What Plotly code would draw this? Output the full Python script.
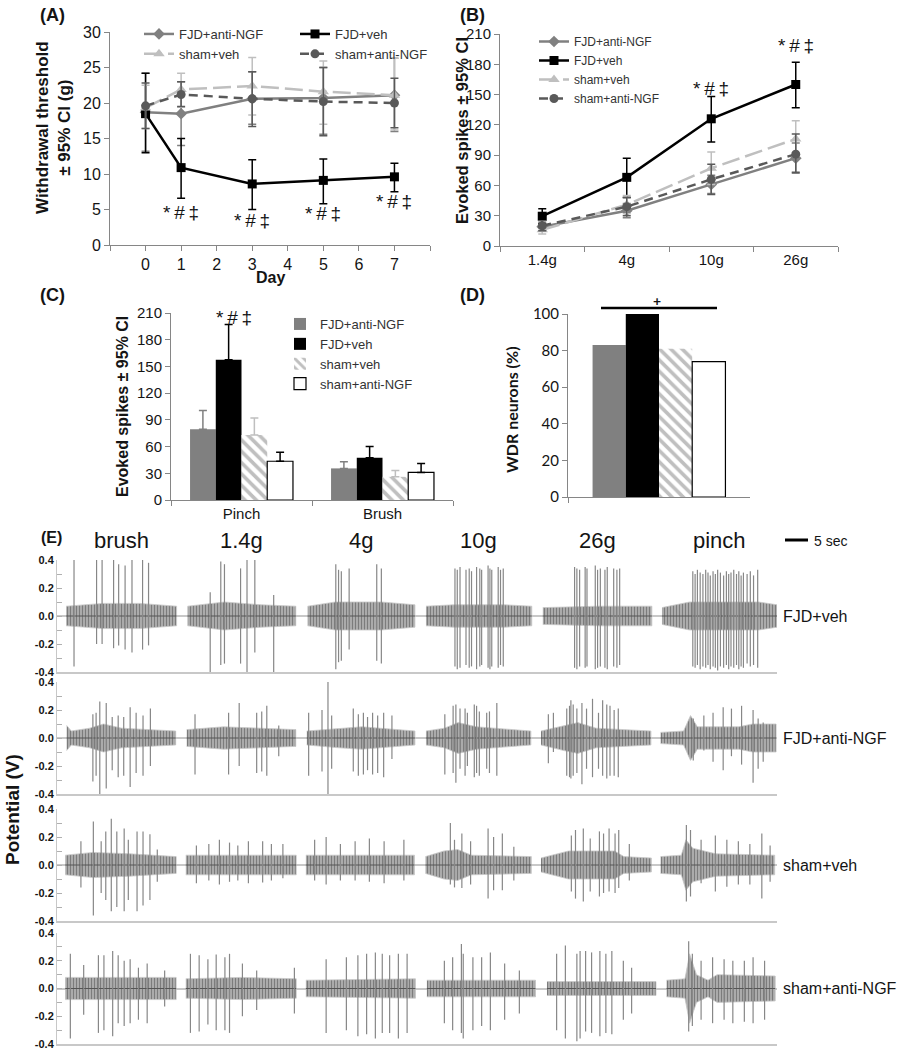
import plotly.graph_objects as go

# ======================= DATA =======================
groups = ["FJD+anti-NGF", "FJD+veh", "sham+veh", "sham+anti-NGF"]

# ---- Panel A: withdrawal threshold (g), mean with 95% CI bounds ----
a_days = [0, 1, 3, 5, 7]
a_tick_vals = [-1, 0, 1, 2, 3, 4, 5, 6, 7, 8]
a_tick_text = ["", "0", "1", "2", "3", "4", "5", "6", "7", ""]
a_fjd_ngf_mean = [18.7, 18.5, 20.6, 20.7, 21.1]
a_fjd_ngf_lo = [13.2, 14.0, 17.0, 15.6, 16.0]
a_fjd_ngf_hi = [24.2, 23.0, 24.4, 25.0, 26.3]
a_fjd_veh_mean = [18.5, 10.9, 8.6, 9.1, 9.6]
a_fjd_veh_lo = [13.0, 6.6, 5.0, 5.8, 7.5]
a_fjd_veh_hi = [24.2, 15.0, 12.0, 12.1, 11.5]
a_sham_veh_mean = [19.3, 21.9, 22.4, 21.6, 21.1]
a_sham_veh_lo = [16.4, 19.4, 18.3, 17.0, 16.2]
a_sham_veh_hi = [22.5, 24.2, 26.4, 25.9, 26.3]
a_sham_ngf_mean = [19.6, 21.2, 20.6, 20.2, 20.0]
a_sham_ngf_lo = [16.4, 19.5, 16.7, 15.4, 16.5]
a_sham_ngf_hi = [22.8, 23.0, 24.4, 25.0, 23.5]
a_sig_days = [1, 3, 5, 7]
a_sig_y = [4.6, 3.5, 4.5, 6.1]

# ---- Panel B: evoked spikes vs von Frey force ----
b_forces = ["1.4g", "4g", "10g", "26g"]
b_fjd_ngf_mean = [19, 35, 61, 87]
b_fjd_ngf_lo = [15, 28, 52, 72]
b_fjd_ngf_hi = [23, 42, 70, 102]
b_fjd_veh_mean = [29.5, 68, 126, 160]
b_fjd_veh_lo = [22, 48, 103, 137]
b_fjd_veh_hi = [37, 87, 148, 182]
b_sham_veh_mean = [16, 41, 77, 106]
b_sham_veh_lo = [12, 32, 61, 89]
b_sham_veh_hi = [20, 50, 93, 124]
b_sham_ngf_mean = [20, 39, 66, 91]
b_sham_ngf_lo = [15, 30, 51, 73]
b_sham_ngf_hi = [25, 48, 81, 111]
b_sig_x = ["10g", "26g"]
b_sig_ypx = [76, 33]          # vertical placement of the marks (page pixels)

# ---- Panel C: evoked spikes, pinch / brush ----
c_stimuli = ["Pinch", "Brush"]
c_fjd_ngf = [79.5, 35.5]
c_fjd_ngf_hi = [100.5, 43]
c_fjd_veh = [157.5, 47.5]
c_fjd_veh_hi = [197, 60]
c_sham_veh = [73, 26]
c_sham_veh_hi = [92, 33]
c_sham_ngf = [43.5, 31]
c_sham_ngf_hi = [53.5, 41]
c_sig_x = ["Pinch"]
c_sig_ypx = [305]

# ---- Panel D: WDR neurons (%) ----
d_category = ["WDR"]
d_fjd_ngf = [83]
d_fjd_veh = [100]
d_sham_veh = [81]
d_sham_ngf = [74]

# ---- Panel E: example recordings (time in s, potential in V) ----
e_rows = ["FJD+veh", "FJD+anti-NGF", "sham+veh", "sham+anti-NGF"]
e_stimuli = ["brush", "1.4g", "4g", "10g", "26g", "pinch"]

# segment start times (s)
e_start_fjd_veh = [2.0, 28.4, 54.5, 80.2, 105.6, 131.5]
e_start_fjd_ngf = [2.1, 28.2, 54.3, 80.2, 105.2, 131.2]
e_start_sham_veh = [1.8, 28.0, 54.1, 80.1, 105.2, 131.2]
e_start_sham_ngf = [1.8, 28.0, 54.1, 80.4, 106.5, 132.5]

# background-noise envelope per segment: [t within segment, half-amplitude]
e_env_fjd_veh = [
    [[0, 0.07], [8, 0.09], [16, 0.09], [24.0, 0.07]],
    [[0, 0.07], [8, 0.10], [16, 0.08], [23.5, 0.07]],
    [[0, 0.07], [6, 0.10], [16, 0.10], [23.3, 0.08]],
    [[0, 0.07], [6, 0.08], [17, 0.08], [23.0, 0.07]],
    [[0, 0.06], [12, 0.07], [23.7, 0.07]],
    [[0, 0.06], [6, 0.10], [21, 0.10], [25.0, 0.08]],
]
e_env_fjd_ngf = [
    [[0, 0.09], [1, 0.05], [5, 0.07], [8, 0.10], [12, 0.07], [23.7, 0.05]],
    [[0, 0.06], [8, 0.08], [23.7, 0.06]],
    [[0, 0.05], [7, 0.07], [12, 0.08], [23.5, 0.05]],
    [[0, 0.05], [4, 0.07], [7, 0.11], [11, 0.08], [22.8, 0.05]],
    [[0, 0.05], [5, 0.09], [8, 0.11], [12, 0.07], [23.9, 0.05]],
    [[0, 0.04], [5, 0.05], [6.5, 0.16], [8, 0.08], [17, 0.08], [20, 0.10], [25.1, 0.10]],
]
e_env_sham_veh = [
    [[0, 0.07], [6, 0.09], [14, 0.08], [24.1, 0.06]],
    [[0, 0.07], [24.0, 0.07]],
    [[0, 0.07], [23.6, 0.07]],
    [[0, 0.06], [4, 0.10], [7, 0.11], [10, 0.07], [23.0, 0.06]],
    [[0, 0.05], [6, 0.10], [16, 0.10], [18, 0.06], [24.0, 0.05]],
    [[0, 0.06], [4.5, 0.07], [5.5, 0.18], [7, 0.12], [12, 0.08], [24.8, 0.07]],
]
e_env_sham_ngf = [
    [[0, 0.08], [24.1, 0.08]],
    [[0, 0.07], [12, 0.08], [24.0, 0.07]],
    [[0, 0.06], [23.8, 0.07]],
    [[0, 0.06], [23.6, 0.06]],
    [[0, 0.05], [23.7, 0.05]],
    [[0, 0.06], [4, 0.07], [5, 0.25], [6.5, 0.10], [9, 0.06], [11, 0.10], [23.6, 0.09]],
]

# spikes per segment: [t within segment, peak, trough]
e_spk_fjd_veh = [
    [[1.7, 0.40, -0.36], [6.6, 0.40, -0.20], [7.8, 0.40, -0.20], [10.3, 0.40, -0.23], [11.4, 0.37, -0.21],
     [12.8, 0.36, -0.24], [14.3, 0.40, -0.26], [16.6, 0.40, -0.24], [17.9, 0.38, -0.21]],
    [[4.9, 0.17, -0.40], [7.2, 0.39, -0.35], [8.0, 0.37, -0.34], [11.5, 0.34, -0.34], [12.9, 0.40, -0.40],
     [14.6, 0.40, -0.26], [18.7, 0.15, -0.40]],
    [[6.1, 0.37, -0.38], [6.7, 0.33, -0.33], [7.3, 0.32, -0.32], [9.0, 0.34, -0.24], [15.0, 0.37, -0.32],
     [16.0, 0.34, -0.34]],
    [[6.3, 0.34, -0.36], [6.8, 0.33, -0.38], [7.4, 0.35, -0.37], [8.7, 0.33, -0.35], [9.4, 0.34, -0.37],
     [9.9, 0.32, -0.36], [11.0, 0.35, -0.38], [11.7, 0.34, -0.36], [12.1, 0.33, -0.35], [13.5, 0.36, -0.37],
     [13.9, 0.34, -0.38], [14.3, 0.33, -0.36], [15.7, 0.35, -0.37], [16.2, 0.33, -0.35], [16.8, 0.34, -0.36]],
    [[6.9, 0.35, -0.37], [7.4, 0.34, -0.38], [8.0, 0.33, -0.36], [9.2, 0.35, -0.37], [9.6, 0.34, -0.36],
     [11.4, 0.36, -0.38], [11.9, 0.33, -0.37], [12.5, 0.34, -0.36], [13.5, 0.33, -0.37], [14.0, 0.35, -0.38],
     [15.4, 0.34, -0.36], [16.1, 0.33, -0.37], [16.7, 0.34, -0.35]],
    [[6.7, 0.32, -0.36], [7.2, 0.30, -0.37], [7.7, 0.33, -0.35], [8.3, 0.31, -0.38], [8.9, 0.30, -0.36],
     [9.5, 0.33, -0.37], [10.0, 0.31, -0.35], [10.5, 0.29, -0.38], [11.1, 0.32, -0.36], [11.6, 0.30, -0.37],
     [12.1, 0.33, -0.39], [12.7, 0.31, -0.36], [13.4, 0.29, -0.37], [14.0, 0.32, -0.35], [14.5, 0.30, -0.38],
     [15.0, 0.31, -0.36], [15.6, 0.33, -0.37], [16.2, 0.30, -0.35], [16.7, 0.32, -0.38], [17.2, 0.29, -0.36],
     [17.7, 0.31, -0.37], [18.5, 0.30, -0.34], [19.2, 0.32, -0.36], [19.9, 0.29, -0.35], [20.8, 0.33, -0.37]],
]
e_spk_fjd_ngf = [
    [[5.7, 0.17, -0.31], [6.4, 0.18, -0.27], [7.2, 0.26, -0.40], [8.6, 0.25, -0.36], [9.9, 0.15, -0.23],
     [11.2, 0.16, -0.28], [12.4, 0.15, -0.27], [13.8, 0.22, -0.35], [15.1, 0.18, -0.25], [16.6, 0.16, -0.27],
     [18.2, 0.21, -0.20]],
    [[1.8, 0.17, -0.26], [9.1, 0.18, -0.26], [11.4, 0.25, -0.20], [15.2, 0.18, -0.25], [16.3, 0.19, -0.24],
     [17.4, 0.23, -0.27], [20.0, 0.09, -0.13]],
    [[0.4, 0.18, -0.27], [3.3, 0.20, -0.24], [4.6, 0.42, -0.40], [5.4, 0.16, -0.22], [10.1, 0.21, -0.24],
     [11.2, 0.17, -0.27], [12.3, 0.18, -0.26], [13.2, 0.15, -0.23], [14.3, 0.18, -0.26], [15.4, 0.16, -0.25],
     [16.7, 0.18, -0.28], [18.5, 0.16, -0.15]],
    [[4.1, 0.17, -0.26], [5.9, 0.23, -0.25], [6.5, 0.24, -0.32], [7.4, 0.21, -0.22], [8.5, 0.21, -0.27],
     [9.0, 0.18, -0.20], [10.5, 0.24, -0.28], [11.0, 0.23, -0.25], [11.6, 0.19, -0.27], [13.2, 0.18, -0.22],
     [13.8, 0.19, -0.25], [15.4, 0.25, -0.27]],
    [[1.6, 0.17, -0.18], [2.7, 0.18, -0.10], [5.6, 0.21, -0.27], [6.2, 0.23, -0.28], [6.5, 0.27, -0.29],
     [7.0, 0.24, -0.27], [7.8, 0.21, -0.25], [8.9, 0.25, -0.33], [9.9, 0.21, -0.22], [11.2, 0.28, -0.28],
     [12.5, 0.18, -0.22], [13.4, 0.27, -0.27], [14.3, 0.24, -0.29], [15.0, 0.23, -0.27], [15.9, 0.20, -0.27],
     [16.8, 0.21, -0.28]],
    [[7.1, 0.14, -0.16], [9.4, 0.16, -0.09], [11.4, 0.18, -0.17], [13.6, 0.22, -0.23], [15.4, 0.21, -0.13],
     [17.6, 0.23, -0.19], [20.1, 0.20, -0.32], [21.2, 0.14, -0.22], [22.3, 0.11, -0.17]],
]
e_spk_sham_veh = [
    [[3.4, 0.17, -0.16], [6.1, 0.31, -0.36], [7.8, 0.17, -0.20], [8.8, 0.24, -0.25], [10.0, 0.33, -0.33],
     [11.2, 0.24, -0.30], [12.8, 0.26, -0.33], [13.7, 0.18, -0.25], [15.6, 0.24, -0.33], [16.9, 0.24, -0.29],
     [18.4, 0.22, -0.25], [20.0, 0.11, -0.12]],
    [[2.3, 0.14, -0.13], [5.0, 0.15, -0.11], [7.3, 0.18, -0.14], [9.5, 0.16, -0.12], [11.3, 0.14, -0.11],
     [13.6, 0.17, -0.13], [16.7, 0.17, -0.125], [18.6, 0.15, -0.11], [21.1, 0.15, -0.095]],
    [[1.9, 0.18, -0.11], [4.4, 0.20, -0.14], [7.5, 0.15, -0.11], [10.7, 0.17, -0.11], [13.8, 0.19, -0.12],
     [17.0, 0.17, -0.13], [21.3, 0.18, -0.11]],
    [[5.4, 0.30, -0.14], [6.3, 0.18, -0.16], [7.9, 0.225, -0.165], [9.8, 0.17, -0.14], [13.6, 0.26, -0.24],
     [14.8, 0.20, -0.18], [16.7, 0.225, -0.18], [19.2, 0.13, -0.11]],
    [[6.6, 0.21, -0.19], [7.5, 0.25, -0.24], [9.2, 0.26, -0.26], [10.7, 0.19, -0.19], [12.7, 0.24, -0.225],
     [13.6, 0.225, -0.20], [14.8, 0.26, -0.19], [16.1, 0.225, -0.20], [16.9, 0.25, -0.165], [19.2, 0.15, -0.11]],
    [[5.6, 0.285, -0.26], [6.5, 0.25, -0.225], [8.8, 0.18, -0.13], [11.9, 0.21, -0.19], [14.4, 0.18, -0.155],
     [16.9, 0.17, -0.14], [19.4, 0.15, -0.14], [22.0, 0.225, -0.24], [23.8, 0.14, -0.12]],
]
e_spk_sham_ngf = [
    [[1.1, 0.25, -0.36], [4.0, 0.17, -0.19], [7.2, 0.24, -0.32], [8.4, 0.24, -0.30], [10.3, 0.27, -0.345],
     [11.5, 0.24, -0.25], [12.8, 0.20, -0.27], [14.1, 0.21, -0.25], [15.9, 0.15, -0.225], [17.8, 0.18, -0.25],
     [21.6, 0.13, -0.13]],
    [[1.0, 0.25, -0.32], [2.9, 0.24, -0.31], [4.8, 0.21, -0.26], [6.6, 0.245, -0.30], [8.5, 0.225, -0.30],
     [9.5, 0.25, -0.32], [12.3, 0.18, -0.20], [15.4, 0.13, -0.155], [23.6, 0.15, -0.18]],
    [[4.4, 0.21, -0.32], [8.8, 0.225, -0.30], [11.3, 0.24, -0.345], [13.2, 0.25, -0.33], [15.1, 0.26, -0.36],
     [16.6, 0.25, -0.32], [18.2, 0.24, -0.32], [20.1, 0.25, -0.36], [22.0, 0.25, -0.32]],
    [[3.8, 0.20, -0.25], [5.6, 0.225, -0.30], [7.5, 0.32, -0.32], [7.9, 0.25, -0.36], [10.0, 0.225, -0.30],
     [11.9, 0.225, -0.27], [13.8, 0.26, -0.30], [16.9, 0.18, -0.225], [20.1, 0.13, -0.18]],
    [[2.1, 0.25, -0.30], [4.0, 0.31, -0.36], [6.5, 0.25, -0.38], [7.2, 0.27, -0.36], [8.4, 0.27, -0.31],
     [9.7, 0.26, -0.32], [11.5, 0.27, -0.345], [12.8, 0.25, -0.32], [14.1, 0.27, -0.33], [16.6, 0.20, -0.225],
     [18.4, 0.15, -0.18]],
    [[4.8, 0.34, -0.31], [5.6, 0.25, -0.27], [7.5, 0.20, -0.225], [10.0, 0.225, -0.25], [12.5, 0.21, -0.225],
     [14.4, 0.20, -0.25], [16.9, 0.20, -0.24], [18.8, 0.225, -0.25], [21.3, 0.20, -0.225]],
]
e_tick_vals = [-0.4, -0.2, 0.0, 0.2, 0.4]
e_tick_text = ["-0.4", "-0.2", "0.0", "0.2", "0.4"]
e_scale_label = "5 sec"

# ======================= STYLE / LAYOUT =======================
W, H = 905, 1050
def px(x):
    return x / W
def py(y):
    return 1 - y / H

ARIAL = "Liberation Sans, Arial, sans-serif"
CALIBRI = "Lato, Carlito, Calibri, sans-serif"
TXT = "#141414"
AXC = "#868686"

line_colors = ["#808080", "#000000", "#bfbfbf", "#595959"]
line_dash = ["solid", "solid", "18px,6px", "9px,6px"]
line_symbol = ["diamond", "square", "triangle-up", "circle"]
line_msize = [9, 9, 10, 9]

fig = go.Figure()

# ---------- Panel A ----------
a_means = [a_fjd_ngf_mean, a_fjd_veh_mean, a_sham_veh_mean, a_sham_ngf_mean]
a_los = [a_fjd_ngf_lo, a_fjd_veh_lo, a_sham_veh_lo, a_sham_ngf_lo]
a_his = [a_fjd_ngf_hi, a_fjd_veh_hi, a_sham_veh_hi, a_sham_ngf_hi]
for i, g in enumerate(groups):
    m, lo, hi = a_means[i], a_los[i], a_his[i]
    fig.add_trace(go.Scatter(
        x=a_days, y=m, name=g, mode="lines+markers",
        line=dict(color=line_colors[i], width=2.5, dash=line_dash[i]),
        marker=dict(symbol=line_symbol[i], size=line_msize[i], color=line_colors[i]),
        error_y=dict(type="data", symmetric=False,
                     array=[h - v for h, v in zip(hi, m)],
                     arrayminus=[v - l for v, l in zip(m, lo)],
                     color=line_colors[i], thickness=1.5, width=4),
        xaxis="x", yaxis="y", legend="legend" if i in (0, 2) else "legend2",
    ))

# ---------- Panel B ----------
b_means = [b_fjd_ngf_mean, b_fjd_veh_mean, b_sham_veh_mean, b_sham_ngf_mean]
b_los = [b_fjd_ngf_lo, b_fjd_veh_lo, b_sham_veh_lo, b_sham_ngf_lo]
b_his = [b_fjd_ngf_hi, b_fjd_veh_hi, b_sham_veh_hi, b_sham_ngf_hi]
for i, g in enumerate(groups):
    m, lo, hi = b_means[i], b_los[i], b_his[i]
    fig.add_trace(go.Scatter(
        x=b_forces, y=m, name=g, mode="lines+markers",
        line=dict(color=line_colors[i], width=2.5, dash=line_dash[i]),
        marker=dict(symbol=line_symbol[i], size=line_msize[i], color=line_colors[i]),
        error_y=dict(type="data", symmetric=False,
                     array=[h - v for h, v in zip(hi, m)],
                     arrayminus=[v - l for v, l in zip(m, lo)],
                     color=line_colors[i], thickness=1.5, width=4),
        xaxis="x2", yaxis="y2", legend="legend3",
    ))

# ---------- Panel C and D (bars) ----------
bar_fill = ["#808080", "#000000", "#bfbfbf", "#ffffff"]
bar_err = ["#808080", "#000000", "#bfbfbf", "#000000"]
c_vals = [c_fjd_ngf, c_fjd_veh, c_sham_veh, c_sham_ngf]
c_his = [c_fjd_ngf_hi, c_fjd_veh_hi, c_sham_veh_hi, c_sham_ngf_hi]
d_vals = [d_fjd_ngf, d_fjd_veh, d_sham_veh, d_sham_ngf]

def bar_marker(i):
    mk = dict(color=bar_fill[i], line=dict(color="#000000" if i == 3 else bar_fill[i],
                                              width=1.2 if i == 3 else 0))
    if i == 2:
        mk["pattern"] = dict(shape="\\", fillmode="replace", fgcolor="#bfbfbf",
                             bgcolor="#ffffff", size=8, solidity=0.45)
    return mk

for i, g in enumerate(groups):
    fig.add_trace(go.Bar(
        x=c_stimuli, y=c_vals[i], name=g, marker=bar_marker(i),
        error_y=dict(type="data", symmetric=False,
                     array=[h - v for h, v in zip(c_his[i], c_vals[i])],
                     arrayminus=[0] * len(c_vals[i]),
                     color=bar_err[i], thickness=1.5, width=4),
        xaxis="x3", yaxis="y3", legend="legend4",
    ))
for i, g in enumerate(groups):
    fig.add_trace(go.Bar(
        x=d_category, y=d_vals[i], name=g, marker=bar_marker(i),
        xaxis="x4", yaxis="y4", showlegend=False,
    ))

# ---------- Panel E (recordings) ----------
e_starts = [e_start_fjd_veh, e_start_fjd_ngf, e_start_sham_veh, e_start_sham_ngf]
e_envs = [e_env_fjd_veh, e_env_fjd_ngf, e_env_sham_veh, e_env_sham_ngf]
e_spks = [e_spk_fjd_veh, e_spk_fjd_ngf, e_spk_sham_veh, e_spk_sham_ngf]
for r in range(4):
    xa, ya = "x%d" % (5 + r), "y%d" % (5 + r)
    for s in range(6):
        t0 = e_starts[r][s]
        env = e_envs[r][s]
        xs = [t0 + t for t, a in env] + [t0 + t for t, a in reversed(env)]
        ys = [a for t, a in env] + [-a for t, a in reversed(env)]
        fig.add_trace(go.Scatter(x=xs, y=ys, mode="lines", fill="toself",
                                 fillcolor="#a0a0a0",
                                 fillpattern=dict(shape="|", fillmode="replace", fgcolor="#7c7c7c",
                                                  bgcolor="#bababa", size=3, solidity=0.5),
                                 line=dict(width=0.8, color="#c8c8c8"),
                                 xaxis=xa, yaxis=ya, showlegend=False, hoverinfo="skip"))
        fig.add_trace(go.Scatter(x=[t0 + env[0][0], t0 + env[-1][0]], y=[0, 0], mode="lines",
                                 line=dict(width=1, color="#555555"),
                                 xaxis=xa, yaxis=ya, showlegend=False, hoverinfo="skip"))
        sx, sy = [], []
        for t, top, bot in e_spks[r][s]:
            sx += [t0 + t, t0 + t, None]
            sy += [bot, top, None]
        fig.add_trace(go.Scatter(x=sx, y=sy, mode="lines", line=dict(width=1.2, color="#878787"),
                                 xaxis=xa, yaxis=ya, showlegend=False, hoverinfo="skip"))

# ---------- axes ----------
def ax(**kw):
    base = dict(showgrid=False, zeroline=False, showline=True, linecolor=AXC, linewidth=1,
                ticks="outside", tickcolor=AXC, ticklen=5, automargin=False,
                tickfont=dict(family=ARIAL, size=15, color=TXT))
    base.update(kw)
    return base

layout = dict(
    width=W, height=H, margin=dict(l=0, r=0, t=0, b=0, pad=0, autoexpand=False),
    paper_bgcolor="white", plot_bgcolor="white",
    barmode="group", bargap=0.27, bargroupgap=0,
    xaxis=ax(domain=[px(110), px(430)], anchor="y", range=[-1, 8],
             tickvals=a_tick_vals, ticktext=a_tick_text, tickfont=dict(family=ARIAL, size=16, color=TXT)),
    yaxis=ax(domain=[py(245), py(32)], anchor="x", range=[0, 30], dtick=5,
             tickfont=dict(family=ARIAL, size=16, color=TXT)),
    xaxis2=ax(domain=[px(500), px(838)], anchor="y2", type="category", range=[-0.5, 3.5],
              tickson="boundaries"),
    yaxis2=ax(domain=[py(246), py(34)], anchor="x2", range=[0, 210], dtick=30),
    xaxis3=ax(domain=[px(171), px(453)], anchor="y3", type="category", range=[-0.5, 1.5],
              tickson="boundaries"),
    yaxis3=ax(domain=[py(500), py(313)], anchor="x3", range=[0, 210], dtick=30),
    xaxis4=ax(domain=[px(568), px(750)], anchor="y4", type="category", range=[-0.5, 0.5],
              tickson="boundaries", showticklabels=False),
    yaxis4=ax(domain=[py(497), py(314)], anchor="x4", range=[0, 100], dtick=20,
              tickfont=dict(family=CALIBRI, size=15, color=TXT)),
)
e_rows_px = [(560, 672), (682, 794), (809, 921), (933, 1044)]
for r in range(4):
    top, bot = e_rows_px[r]
    layout["xaxis%d" % (5 + r)] = dict(domain=[px(57), px(777)], anchor="y%d" % (5 + r),
                                         range=[0, 156.5], showgrid=False, zeroline=False,
                                         showline=True, linecolor="#c8c8c8", linewidth=1.5,
                                         showticklabels=False, ticks="", automargin=False)
    layout["yaxis%d" % (5 + r)] = dict(domain=[py(bot), py(top)], anchor="x%d" % (5 + r),
                                         range=[-0.4, 0.4], tickvals=e_tick_vals, ticktext=e_tick_text,
                                         showgrid=False, zeroline=True, zerolinecolor="#c8c8c8",
                                         zerolinewidth=2, showline=True, linecolor="#c8c8c8",
                                         linewidth=1, ticks="inside", ticklen=5, tickcolor="#b0b0b0",
                                         minor=dict(dtick=0.1, ticks="inside", ticklen=5,
                                                    tickcolor="#b0b0b0"),
                                         automargin=False,
                                         tickfont=dict(family=ARIAL, size=11, color=TXT, weight="bold"))

leg_common = dict(bgcolor="rgba(0,0,0,0)", borderwidth=0, xanchor="left", yanchor="top",
                  tracegroupgap=0, itemwidth=30)
LF = dict(family=ARIAL, size=13, color="#333")
layout["legend"] = dict(leg_common, x=px(139), y=py(19), font=LF)
layout["legend2"] = dict(leg_common, x=px(295), y=py(19), font=LF)
layout["legend3"] = dict(leg_common, x=px(534), y=py(27), font=dict(LF, size=12))
layout["legend4"] = dict(leg_common, x=px(280), y=py(309), font=LF)

fig.update_layout(**layout)

# ---------- text annotations ----------
ann = []
SIG = "*\u2009#\u2009\u2021"
SIGF = dict(family=ARIAL, size=19, color=TXT)
for d, yv in zip(a_sig_days, a_sig_y):
    ann.append(dict(x=d, y=yv, xref="x", yref="y", text=SIG, showarrow=False, font=SIGF))
for xc, yp in zip(b_sig_x, b_sig_ypx):
    ann.append(dict(x=xc, y=py(yp), xref="x2", yref="paper", text=SIG, showarrow=False, font=SIGF))
for xc, yp in zip(c_sig_x, c_sig_ypx):
    ann.append(dict(x=xc, y=py(yp), xref="x3", yref="paper", text=SIG, showarrow=False,
                    xshift=-8, font=SIGF))

def label(x, y, text, size=18, family=ARIAL, bold=True, angle=0, xanchor="center", color=TXT):
    ann.append(dict(x=px(x), y=py(y), xref="paper", yref="paper", text=text, showarrow=False,
                    textangle=angle, xanchor=xanchor, yanchor="middle",
                    font=dict(family=family, size=size, color=color, weight="bold" if bold else "normal")))

label(52, 15, "(A)", 18)
label(472, 15, "(B)", 18)
label(52, 295, "(C)", 18)
label(472, 295, "(D)", 18)
label(51, 537, "(E)", 16)
label(53, 128, "Withdrawal threshold<br>± 95% CI (g)", 17, angle=-90)
label(270, 277, "Day", 16)
label(462, 130, "Evoked spikes ± 95% CI", 16.5, angle=-90)
label(122, 407, "Evoked spikes ± 95% CI", 16, angle=-90)
label(512, 410, "WDR neurons (%)", 16, family=CALIBRI, angle=-90)
label(12, 810, "Potential (V)", 19, angle=-90)
label(657, 300, "+", 14, family=CALIBRI)

# stimulus headings centred over row-1 segments
for s, name in enumerate(e_stimuli):
    env = e_env_fjd_veh[s]
    ann.append(dict(x=e_start_fjd_veh[s] + (env[-1][0] - env[0][0]) / 2, y=py(540),
                    xref="x5", yref="paper", text=name, showarrow=False,
                    font=dict(family=ARIAL, size=22, color=TXT)))
# row labels
for r, name in enumerate(e_rows):
    ann.append(dict(x=px(781), y=0, xref="paper", yref="y%d" % (5 + r), text=name,
                    showarrow=False, xanchor="left", yanchor="middle",
                    font=dict(family=ARIAL, size=16, color=TXT)))
# scale bar label
label(812, 541, e_scale_label, 14, bold=False, xanchor="left")

fig.update_layout(annotations=ann)

# significance line (panel D) and time scale bar (panel E)
fig.add_shape(type="line", xref="paper", yref="paper", x0=px(601), x1=px(717), y0=py(308), y1=py(308),
              line=dict(color="#000000", width=2.5))
fig.add_shape(type="line", xref="paper", yref="paper", x0=px(785), x1=px(808), y0=py(540), y1=py(540),
              line=dict(color="#000000", width=3))

fig.write_html("out.html", config={"displayModeBar": False},
               post_script="document.body.style.margin='0';document.body.style.padding='0';")
